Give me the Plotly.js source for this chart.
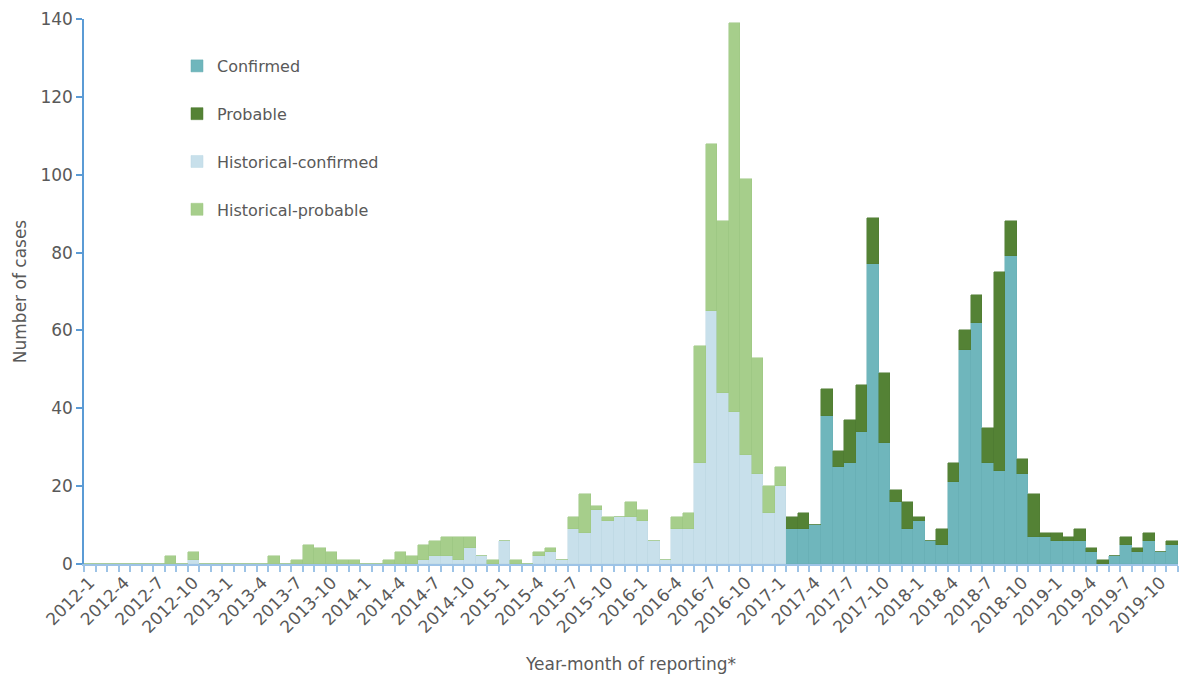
<!DOCTYPE html>
<html>
<head>
<meta charset="utf-8">
<script src="https://cdn.plot.ly/plotly-3.0.1.min.js"></script>
<style>html,body{margin:0;padding:0;background:#fff;}#chart{width:1179px;height:677px;}</style>
</head>
<body>
<div id="chart"></div>
<script>
// Year-month categories, 2012-1 .. 2019-11
var months = [
"2012-1","2012-2","2012-3","2012-4","2012-5","2012-6","2012-7","2012-8","2012-9","2012-10","2012-11","2012-12",
"2013-1","2013-2","2013-3","2013-4","2013-5","2013-6","2013-7","2013-8","2013-9","2013-10","2013-11","2013-12",
"2014-1","2014-2","2014-3","2014-4","2014-5","2014-6","2014-7","2014-8","2014-9","2014-10","2014-11","2014-12",
"2015-1","2015-2","2015-3","2015-4","2015-5","2015-6","2015-7","2015-8","2015-9","2015-10","2015-11","2015-12",
"2016-1","2016-2","2016-3","2016-4","2016-5","2016-6","2016-7","2016-8","2016-9","2016-10","2016-11","2016-12",
"2017-1","2017-2","2017-3","2017-4","2017-5","2017-6","2017-7","2017-8","2017-9","2017-10","2017-11","2017-12",
"2018-1","2018-2","2018-3","2018-4","2018-5","2018-6","2018-7","2018-8","2018-9","2018-10","2018-11","2018-12",
"2019-1","2019-2","2019-3","2019-4","2019-5","2019-6","2019-7","2019-8","2019-9","2019-10","2019-11"
];

// Historical series: 2012-1 .. 2017-1
var histMonths = months.slice(0, 61);
var histConfirmed = [
0,0,0,0,0,0,0,0,0,1,0,0,
0,0,0,0,0,0,0,0,0,0,0,0,
0,0,0,0,0,1,2,2,1,4,2,0,
6,0,0,2,3,1,9,8,14,11,12,12,
11,6,1,9,9,26,65,44,39,28,23,13,
20
];
var histProbable = [
0,0,0,0,0,0,0,2,0,2,0,0,
0,0,0,0,2,0,1,5,4,3,1,1,
0,0,1,3,2,4,4,5,6,3,0,1,
0,1,0,1,1,0,3,10,1,1,0,4,
3,0,0,3,4,30,43,44,100,71,30,7,
5
];

// Current surveillance series: 2017-2 .. 2019-11
var curMonths = months.slice(61);
var confirmed = [9,9,10,38,25,26,34,77,31,16,9,11,6,5,21,55,62,26,24,79,23,7,7,6,6,6,3,0,2,5,3,6,3,5];
var probable  = [3,4,0,7,4,11,12,12,18,3,7,1,0,4,5,5,7,9,51,9,4,11,1,2,1,3,1,1,0,2,1,2,0,1];

// Tick labels every third month
var tickLabels = months.filter(function(m, i){ return i % 3 === 0; });

function idx(list){ return list.map(function(m){ return months.indexOf(m); }); }
var tickPos = idx(tickLabels);

var font = "DejaVu Sans, Verdana, sans-serif";
function bar(name, x, y, color, edge){
  return {type:"bar", name:name, x:idx(x), y:y, legendgroup:name,
    marker:{color:color, line:{color:edge, width:0.5}},
    customdata:x, hovertemplate:"%{customdata}: %{y}<extra>"+name+"</extra>"};
}
var data = [
  bar("Confirmed", curMonths, confirmed, "#6FB6BC", "#67ADB3"),
  bar("Probable", curMonths, probable, "#548235", "#4E7A31"),
  bar("Historical-confirmed", histMonths, histConfirmed, "#C8E0EB", "#BDD8E4"),
  bar("Historical-probable", histMonths, histProbable, "#A6CE8B", "#9CC681")
];

var layout = {
  width:1179, height:677,
  margin:{l:84, r:1, t:19, b:113},
  paper_bgcolor:"#ffffff", plot_bgcolor:"#ffffff",
  barmode:"stack", bargap:0,
  font:{family:font, color:"#595959", size:15},
  showlegend:true,
  legend:{x:0.085, y:0.945, xanchor:"left", yanchor:"top", bgcolor:"rgba(0,0,0,0)",
    font:{family:font, size:16, color:"#595959"}, traceorder:"grouped", tracegroupgap:24, itemwidth:30},
  xaxis:{type:"linear", range:[-0.5, months.length-0.5], tickmode:"array", tickvals:tickPos, ticktext:tickLabels,
    tickangle:-45, ticks:"", showgrid:false, zeroline:false,
    showline:true, linecolor:"#9DC3E6", linewidth:2,
    tickfont:{family:font, size:17, color:"#595959"},
    minor:{ticks:"outside", ticklen:6, tickwidth:1.5, tickcolor:"#9DC3E6", tick0:-0.5, dtick:1, showgrid:false},
    title:{text:"Year-month of reporting*", font:{family:font, size:17, color:"#595959"}, standoff:22}},
  yaxis:{range:[0,140], dtick:20, ticks:"outside", ticklen:6, tickwidth:1.5, tickcolor:"#5B9BD5",
    showline:true, linecolor:"#5B9BD5", linewidth:1.5, showgrid:false, zeroline:false,
    tickfont:{family:font, size:17, color:"#595959"},
    title:{text:"Number of cases", font:{family:font, size:17, color:"#595959"}, standoff:9}}
};
Plotly.newPlot("chart", data, layout, {displayModeBar:false});
</script>
</body>
</html>
